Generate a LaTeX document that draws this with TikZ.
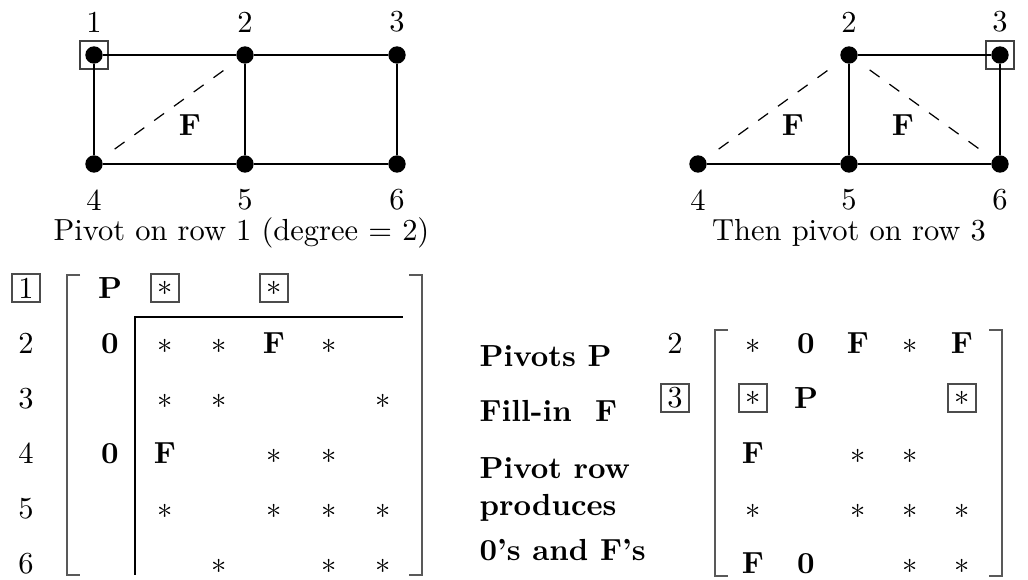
\documentclass[tikz,border=0pt]{standalone}
\begin{document}
\begin{tikzpicture}[x=0.328pt,y=-0.328pt,
  vertex/.style={circle,fill=black,inner sep=0pt,minimum size=5.7pt},
  edge/.style={line width=0.45pt},
  filledge/.style={line width=0.4pt,dash pattern=on 4pt off 4pt,shorten <=5.3pt,shorten >=5.3pt},
  tag/.style={inner sep=0pt},
  pivotbox/.style={draw=black!70,line width=0.4pt,inner sep=0pt,minimum size=9.2pt},
  cell/.style={inner sep=0pt,text height=0.68em,text depth=0pt},
  bracket/.style={draw=black!65,line width=0.45pt},
  caption/.style={anchor=base,inner sep=0pt},
  note/.style={anchor=base west,inner sep=0pt,font=\bfseries}]
\useasboundingbox (0,0) rectangle (1028,580);

% ---------- graph before the first pivot ----------
\node[vertex] (n1) at (94,55) {};
\node[vertex] (n2) at (245,55) {};
\node[vertex] (n3) at (397,55) {};
\node[vertex] (n4) at (94,164) {};
\node[vertex] (n5) at (245,164) {};
\node[vertex] (n6) at (397,164) {};
\node[pivotbox,draw=black!75] (q1) at (n1) {};
\draw[edge] (n1) -- (n2);
\draw[edge] (n2) -- (n3);
\draw[edge] (n1) -- (n4);
\draw[edge] (n2) -- (n5);
\draw[edge] (n3) -- (n6);
\draw[edge] (n4) -- (n5);
\draw[edge] (n5) -- (n6);
\draw[filledge] (n4) -- (n2);
\node[tag] (f1) at (190,125) {\textbf{F}};
\node[tag] (l1) at (94,22) {1};
\node[tag] (l2) at (245,22) {2};
\node[tag] (l3) at (397,22) {3};
\node[tag] (l4) at (94,200) {4};
\node[tag] (l5) at (245,200) {5};
\node[tag] (l6) at (397,200) {6};
\node[caption] (c1) at (241.5,241) {Pivot on row 1 (degree = 2)};

% ---------- graph after the first pivot ----------
\node[vertex] (m2) at (849,55) {};
\node[vertex] (m3) at (1000,55) {};
\node[vertex] (m4) at (698,164) {};
\node[vertex] (m5) at (849,164) {};
\node[vertex] (m6) at (1000,164) {};
\node[pivotbox,draw=black!75] (q3) at (m3) {};
\draw[edge] (m2) -- (m3);
\draw[edge] (m2) -- (m5);
\draw[edge] (m3) -- (m6);
\draw[edge] (m4) -- (m5);
\draw[edge] (m5) -- (m6);
\draw[filledge] (m4) -- (m2);
\draw[filledge] (m2) -- (m6);
\node[tag] (g1) at (793,125) {\textbf{F}};
\node[tag] (g2) at (903,125) {\textbf{F}};
\node[tag] (k2) at (849,22) {2};
\node[tag] (k3) at (1000,22) {3};
\node[tag] (k4) at (698,200) {4};
\node[tag] (k5) at (849,200) {5};
\node[tag] (k6) at (1000,200) {6};
\node[caption] (c2) at (849,241) {Then pivot on row 3};

% ---------- matrix for the first pivot ----------
\node[pivotbox] (r1) at (26,288) {1};
\node[cell] (r2) at (26,343) {2};
\node[cell] (r3) at (26,398) {3};
\node[cell] (r4) at (26,453) {4};
\node[cell] (r5) at (26,508) {5};
\node[cell] (r6) at (26,563) {6};

\node[cell] (a11) at (110,288) {\textbf{P}};
\node[pivotbox] (a12) at (165,288) {$*$};
\node[pivotbox] (a14) at (274,288) {$*$};

\node[cell] (a21) at (110,343) {\textbf{0}};
\node[cell] (a22) at (165,343) {$*$};
\node[cell] (a23) at (219,343) {$*$};
\node[cell] (a24) at (274,343) {\textbf{F}};
\node[cell] (a25) at (329,343) {$*$};

\node[cell] (a32) at (165,398) {$*$};
\node[cell] (a33) at (219,398) {$*$};
\node[cell] (a36) at (383,398) {$*$};

\node[cell] (a41) at (110,453) {\textbf{0}};
\node[cell] (a42) at (165,453) {\textbf{F}};
\node[cell] (a44) at (274,453) {$*$};
\node[cell] (a45) at (329,453) {$*$};

\node[cell] (a52) at (165,508) {$*$};
\node[cell] (a54) at (274,508) {$*$};
\node[cell] (a55) at (329,508) {$*$};
\node[cell] (a56) at (383,508) {$*$};

\node[cell] (a63) at (219,563) {$*$};
\node[cell] (a65) at (329,563) {$*$};
\node[cell] (a66) at (383,563) {$*$};

\draw[bracket] (80,275) -- (67,275) -- (67,575) -- (80,575);
\draw[bracket] (409,275) -- (422,275) -- (422,575) -- (409,575);
\draw[edge] (135,575) -- (135,317) -- (403,317);

% ---------- legend ----------
\node[note] (t1) at (479,367) {Pivots P};
\node[note] (t2) at (479,422) {Fill-in\ \ F};
\node[note] (t3) at (479,478) {Pivot row};
\node[note] (t4) at (479,515) {produces};
\node[note] (t5) at (479,560) {0's and F's};

% ---------- matrix for the second pivot ----------
\node[cell] (s2) at (675,343) {2};
\node[pivotbox] (s3) at (675,398) {3};

\node[cell] (b21) at (753,343) {$*$};
\node[cell] (b22) at (806,343) {\textbf{0}};
\node[cell] (b23) at (858,343) {\textbf{F}};
\node[cell] (b24) at (910,343) {$*$};
\node[cell] (b25) at (962,343) {\textbf{F}};

\node[pivotbox] (b31) at (753,398) {$*$};
\node[cell] (b32) at (806,398) {\textbf{P}};
\node[pivotbox] (b35) at (962,398) {$*$};

\node[cell] (b41) at (753,453) {\textbf{F}};
\node[cell] (b43) at (858,453) {$*$};
\node[cell] (b44) at (910,453) {$*$};

\node[cell] (b51) at (753,508) {$*$};
\node[cell] (b53) at (858,508) {$*$};
\node[cell] (b54) at (910,508) {$*$};
\node[cell] (b55) at (962,508) {$*$};

\node[cell] (b61) at (753,563) {\textbf{F}};
\node[cell] (b62) at (806,563) {\textbf{0}};
\node[cell] (b64) at (910,563) {$*$};
\node[cell] (b65) at (962,563) {$*$};

\draw[bracket] (728,330) -- (715,330) -- (715,576) -- (728,576);
\draw[bracket] (989,330) -- (1002,330) -- (1002,576) -- (989,576);
\end{tikzpicture}
\end{document}
